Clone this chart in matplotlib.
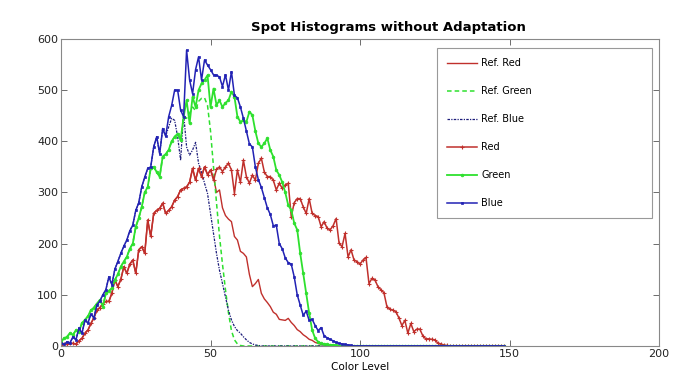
import numpy as np
import matplotlib
matplotlib.use("Agg")
import matplotlib.pyplot as plt

title = "Spot Histograms without Adaptation"
xlabel = "Color Level"
labels = ["Ref. Red", "Ref. Green", "Ref. Blue", "Red", "Green", "Blue"]
xticks = [0, 50, 100, 150, 200]
yticks = [0, 100, 200, 300, 400, 500, 600]

levels = list(range(0, 149))

red = [2, 4, 3, 5, 5, 4, 10, 15, 25, 31,
       44, 55, 70, 75, 83, 87, 87, 103, 129, 116,
       130, 155, 142, 160, 168, 142, 188, 194, 181, 246,
       214, 259, 265, 269, 279, 259, 265, 272, 285, 292,
       305, 308, 311, 320, 347, 324, 347, 331, 350, 335,
       344, 324, 345, 350, 341, 350, 357, 344, 298, 344,
       320, 363, 331, 318, 334, 324, 357, 367, 340, 331,
       331, 324, 305, 318, 308, 315, 318, 253, 280, 288,
       288, 272, 259, 288, 259, 255, 253, 233, 243, 230,
       227, 235, 249, 201, 194, 220, 174, 188, 168, 165,
       160, 168, 173, 122, 132, 129, 116, 110, 104, 77,
       72, 70, 67, 55, 40, 50, 25, 44, 28, 33,
       33, 20, 14, 14, 13, 12, 6, 4, 2, 1] + [0] * 19

green = [8, 15, 18, 25, 22, 31, 28, 45, 51, 58,
         70, 75, 83, 90, 77, 103, 108, 113, 129, 140,
         155, 165, 174, 190, 200, 233, 250, 272, 300, 311,
         347, 350, 340, 331, 370, 375, 383, 400, 409, 415,
         402, 448, 480, 435, 487, 467, 500, 513, 520, 529,
         467, 503, 471, 480, 467, 475, 480, 497, 487, 448,
         438, 441, 438, 458, 451, 420, 396, 389, 396, 406,
         383, 370, 344, 334, 320, 300, 275, 266, 240, 227,
         181, 142, 103, 64, 31, 15, 8, 5, 4, 3,
         2, 2, 1] + [0] * 56

blue = [5, 3, 8, 6, 18, 12, 35, 25, 50, 45,
        62, 55, 80, 88, 100, 110, 135, 120, 150, 165,
        181, 195, 207, 225, 236, 265, 280, 311, 330, 347,
        350, 389, 409, 376, 425, 410, 448, 470, 500, 500,
        461, 448, 578, 520, 493, 540, 565, 520, 559, 549,
        540, 530, 529, 526, 507, 530, 500, 536, 490, 485,
        467, 445, 420, 395, 389, 350, 325, 310, 290, 270,
        257, 235, 236, 200, 190, 172, 163, 160, 135, 100,
        80, 60, 68, 50, 52, 40, 30, 36, 20, 16,
        13, 10, 7, 5, 4, 3, 2, 1] + [0] * 51

# reference curves: identical to the adapted ones on the rising side
ref_red_tail = [330, 300, 305, 270, 255, 248, 243, 214, 207,
                185, 181, 174, 140, 116, 122, 130, 103, 92, 85,
                77, 66, 62, 52, 51, 50, 54, 46, 40, 32,
                28, 22, 18, 13, 11, 7, 5, 3, 2, 1]
ref_red = red[:51] + ref_red_tail
ref_red = ref_red + [0] * (len(levels) - len(ref_red))

ref_green_tail = [445, 455, 467, 460, 478, 484, 485, 470,
                  420, 350, 280, 215, 160, 110, 65, 30, 12, 4, 1]
ref_green = green[:42] + ref_green_tail
ref_green = ref_green + [0] * (len(levels) - len(ref_green))

ref_blue_tail = [428, 445, 441, 409, 363, 454, 389, 373, 383, 398,
                 357, 340, 318, 298, 259, 220, 181, 148, 122, 96,
                 70, 51, 38, 30, 25, 18, 12, 7, 4, 2, 1]
ref_blue = blue[:36] + ref_blue_tail
ref_blue = ref_blue + [0] * (len(levels) - len(ref_blue))

c_red = "#c0302c"
c_green = "#2ee02e"
c_blue = "#2222b4"
c_navy = "#1c1c7a"

fig = plt.figure(figsize=(6.95, 3.81), dpi=100)
ax = fig.add_axes([0.0878, 0.0919, 0.8604, 0.8058])

ax.plot(levels, ref_red, color=c_red, lw=1.0, label=labels[0])
ax.plot(levels, ref_green, color=c_green, lw=1.1, ls=(0, (3, 2)), label=labels[1])
ax.plot(levels, ref_blue, color=c_navy, lw=0.9, ls=(0, (2, 1, 1, 1)), label=labels[2])
ax.plot(levels, red, color=c_red, lw=1.1, marker="+", ms=3, mew=0.8, label=labels[3])
ax.plot(levels, green, color=c_green, lw=1.3, marker="o", ms=2, mew=0.5, label=labels[4])
ax.plot(levels, blue, color=c_blue, lw=1.1, marker="s", ms=1.8, mew=0.5, label=labels[5])

ax.set_xlim(0, 200)
ax.set_ylim(0, 600)
ax.set_xticks(xticks)
ax.set_yticks(yticks)
ax.tick_params(direction="in", top=True, right=True, labelsize=8,
               length=4, width=0.6, colors="#555555", labelcolor="#222222", pad=2)
for s in ax.spines.values():
    s.set_color("#888888")
    s.set_linewidth(0.8)

ax.set_title(title, fontsize=9.5, fontweight="bold", pad=6, x=0.548)
ax.set_xlabel(xlabel, fontsize=7.5, labelpad=2)

leg = ax.legend(loc="upper left", bbox_to_anchor=(0.629, 0.0, 0.3595, 0.971),
                mode="expand", fontsize=7, labelspacing=1.85, handlelength=3.0,
                handletextpad=0.5, borderpad=1.05, fancybox=False, framealpha=1,
                edgecolor="#999999", numpoints=1, borderaxespad=0)
leg.get_frame().set_linewidth(0.8)

fig.savefig("out.png", dpi=100)
